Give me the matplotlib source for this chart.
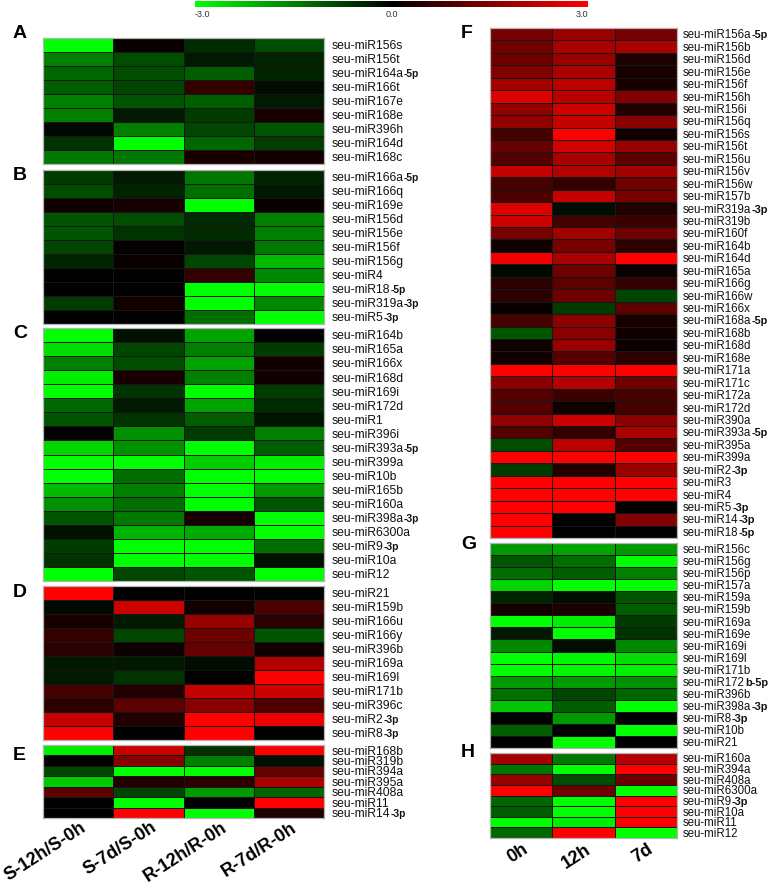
import matplotlib
matplotlib.use('Agg')
import matplotlib.pyplot as plt
import numpy as np
from matplotlib.colors import LinearSegmentedColormap
from matplotlib.transforms import blended_transform_factory, offset_copy

plt.rcParams['font.family'] = ['Liberation Sans', 'DejaVu Sans']

# ---------------- data ----------------
left_columns = ["S-12h/S-0h", "S-7d/S-0h", "R-12h/R-0h", "R-7d/R-0h"]
right_columns = ["0h", "12h", "7d"]
cbar_ticks = ["-3.0", "0.0", "3.0"]

# label format: "regular|bold"
A_labels = ["seu-miR156s", "seu-miR156t", "seu-miR164a|-5p", "seu-miR166t", "seu-miR167e",
            "seu-miR168e", "seu-miR396h", "seu-miR164d", "seu-miR168c"]
A_values = [[-3.0, 0.1, -0.5, -0.9],
            [-1.5, -0.9, -0.3, -0.4],
            [-1.2, -0.9, -1.1, -0.4],
            [-1.1, -0.8, 0.6, -0.15],
            [-1.5, -1.0, -1.1, -0.3],
            [-1.5, -0.3, -0.7, 0.3],
            [-0.1, -1.5, -0.8, -1.0],
            [-0.6, -3.0, -1.2, -0.7],
            [-1.4, -1.4, 0.3, 0.2]]

B_labels = ["seu-miR166a|-5p", "seu-miR166q", "seu-miR169e", "seu-miR156d", "seu-miR156e",
            "seu-miR156f", "seu-miR156g", "seu-miR4", "seu-miR18|-5p", "seu-miR319a|-3p",
            "seu-miR5|-3p"]
B_values = [[-0.7, -0.3, -1.4, -0.4],
            [-0.9, -0.4, -1.3, -0.3],
            [0.2, 0.3, -3.0, 0.1],
            [-1.0, -0.9, -0.5, -1.5],
            [-1.0, -0.6, -0.5, -1.5],
            [-0.8, 0.05, -0.3, -1.4],
            [-0.4, 0.1, -0.8, -2.2],
            [0.0, 0.0, 0.6, -1.6],
            [0.0, 0.0, -3.0, -3.0],
            [-0.7, 0.2, -3.0, -1.6],
            [0.0, 0.0, -1.3, -3.0]]

C_labels = ["seu-miR164b", "seu-miR165a", "seu-miR166x", "seu-miR168d", "seu-miR169i",
            "seu-miR172d", "seu-miR1", "seu-miR396i", "seu-miR393a|-5p", "seu-miR399a",
            "seu-miR10b", "seu-miR165b", "seu-miR160a", "seu-miR398a|-3p", "seu-miR6300a",
            "seu-miR9|-3p", "seu-miR10a", "seu-miR12"]
C_values = [[-3.0, -0.2, -1.9, 0.0],
            [-2.6, -0.8, -1.5, -0.7],
            [-1.5, -0.9, -1.9, 0.2],
            [-2.8, 0.3, -1.5, 0.2],
            [-3.0, -0.6, -3.0, -0.7],
            [-1.2, -0.3, -1.9, -0.5],
            [-1.0, -0.6, -1.1, -0.25],
            [0.0, -1.7, -0.7, -1.5],
            [-2.5, -1.7, -3.0, -1.1],
            [-3.0, -3.0, -2.4, -2.8],
            [-3.0, -1.3, -3.0, -3.0],
            [-2.2, -1.5, -3.0, -1.8],
            [-1.7, -1.3, -3.0, -1.0],
            [-1.0, -1.4, 0.3, -3.0],
            [-0.2, -2.1, -2.0, -3.0],
            [-0.7, -3.0, -3.0, -1.3],
            [-0.6, -3.0, -3.0, -0.2],
            [-3.0, -0.8, -1.0, -3.0]]

D_labels = ["seu-miR21", "seu-miR159b", "seu-miR166u", "seu-miR166y", "seu-miR396b",
            "seu-miR169a", "seu-miR169l", "seu-miR171b", "seu-miR396c", "seu-miR2|-3p",
            "seu-miR8|-3p"]
D_values = [[3.0, 0.0, 0.0, 0.0],
            [-0.1, 2.4, 0.2, 0.9],
            [0.3, -0.3, 1.8, 0.5],
            [0.6, -0.8, 1.3, -1.0],
            [0.5, 0.15, 1.2, 0.2],
            [-0.3, -0.3, -0.15, 2.1],
            [-0.3, -0.6, 0.0, 3.0],
            [0.8, 0.4, 2.3, 2.4],
            [0.5, 1.1, 1.6, 0.9],
            [2.3, 0.4, 3.0, 2.8],
            [3.0, 0.0, 3.0, 0.0]]

E_labels = ["seu-miR168b", "seu-miR319b", "seu-miR394a", "seu-miR395a", "seu-miR408a",
            "seu-miR11", "seu-miR14|-3p"]
E_values = [[-2.8, 2.4, -0.6, 3.0],
            [0.05, 1.6, -1.5, -0.2],
            [-0.8, -3.0, -3.0, 1.2],
            [-2.4, 0.4, 0.5, 2.0],
            [1.1, -0.8, -1.8, -1.2],
            [0.0, -3.0, 0.0, 3.0],
            [0.0, 3.0, -3.0, 0.4]]

F_labels = ["seu-miR156a|-5p", "seu-miR156b", "seu-miR156d", "seu-miR156e", "seu-miR156f",
            "seu-miR156h", "seu-miR156i", "seu-miR156q", "seu-miR156s", "seu-miR156t",
            "seu-miR156u", "seu-miR156v", "seu-miR156w", "seu-miR157b", "seu-miR319a|-3p",
            "seu-miR319b", "seu-miR160f", "seu-miR164b", "seu-miR164d", "seu-miR165a",
            "seu-miR166g", "seu-miR166w", "seu-miR166x", "seu-miR168a|-5p", "seu-miR168b",
            "seu-miR168d", "seu-miR168e", "seu-miR171a", "seu-miR171c", "seu-miR172a",
            "seu-miR172d", "seu-miR390a", "seu-miR393a|-5p", "seu-miR395a", "seu-miR399a",
            "seu-miR2|-3p", "seu-miR3", "seu-miR4", "seu-miR5|-3p", "seu-miR14|-3p",
            "seu-miR18|-5p"]
F_values = [[1.4, 1.8, 1.4],
            [1.3, 2.0, 2.0],
            [1.3, 1.8, 0.35],
            [1.5, 2.0, 0.3],
            [1.9, 2.2, 0.3],
            [2.6, 2.2, 1.5],
            [1.7, 2.4, 0.4],
            [1.7, 2.3, 1.6],
            [0.8, 3.0, 0.2],
            [1.2, 2.5, 1.8],
            [1.0, 2.0, 1.1],
            [2.3, 2.1, 1.9],
            [0.8, 0.6, 1.3],
            [0.9, 2.3, 1.4],
            [2.6, -0.15, 0.4],
            [2.4, 0.8, 0.7],
            [1.4, 1.9, 1.3],
            [0.2, 1.4, 0.5],
            [2.8, 2.0, 3.0],
            [-0.1, 1.3, 0.15],
            [0.5, 1.1, 0.6],
            [0.5, 1.3, -0.8],
            [0.1, -0.7, 1.1],
            [0.8, 1.7, 0.3],
            [-1.0, 1.6, 0.2],
            [0.2, 1.8, 0.15],
            [0.2, 1.0, 0.5],
            [3.0, 3.0, 3.0],
            [1.6, 2.1, 1.3],
            [1.0, 0.7, 0.8],
            [1.0, 0.2, 0.8],
            [1.7, 2.4, 1.6],
            [1.0, 0.6, 2.0],
            [-0.9, 2.2, 1.0],
            [3.0, 3.0, 3.0],
            [-0.7, 0.4, 1.8],
            [3.0, 3.0, 3.0],
            [3.0, 3.0, 3.0],
            [3.0, 3.0, 0.0],
            [3.0, 0.0, 1.5],
            [3.0, 0.0, 0.0]]

G_labels = ["seu-miR156c", "seu-miR156g", "seu-miR156p", "seu-miR157a", "seu-miR159a",
            "seu-miR159b", "seu-miR169a", "seu-miR169e", "seu-miR169i", "seu-miR169l",
            "seu-miR171b", "seu-miR172|b-5p", "seu-miR396b", "seu-miR398a|-3p", "seu-miR8|-3p",
            "seu-miR10b", "seu-miR21"]
G_values = [[-1.8, -1.9, -1.8],
            [-1.0, -1.3, -3.0],
            [-1.3, -1.1, -1.5],
            [-2.5, -3.0, -3.0],
            [-0.4, -0.15, -1.0],
            [0.25, 0.35, -1.1],
            [-3.0, -2.8, -0.7],
            [-0.3, -3.0, -0.6],
            [-1.6, -0.15, -1.6],
            [-3.0, -2.9, -2.6],
            [-3.0, -2.9, -2.8],
            [-1.8, -1.8, -1.7],
            [-1.3, -0.8, -1.2],
            [-2.3, -1.1, -3.0],
            [0.0, -1.8, 0.0],
            [-1.1, 0.0, -3.0],
            [0.0, -3.0, 0.0]]

H_labels = ["seu-miR160a", "seu-miR394a", "seu-miR408a", "seu-miR6300a", "seu-miR9|-3p",
            "seu-miR10a", "seu-miR11", "seu-miR12"]
H_values = [[1.9, -1.4, 2.1],
            [-1.4, -3.0, 3.0],
            [1.8, -0.9, 1.3],
            [3.0, 1.3, -3.0],
            [-1.2, -3.0, 3.0],
            [-1.1, -3.0, 3.0],
            [-3.0, -2.8, 3.0],
            [-1.2, 3.0, -3.0]]

# ---------------- layout ----------------
W, H = 778, 892
fig = plt.figure(figsize=(W / 100, H / 100), dpi=100)
fig.patch.set_facecolor('white')

cmap = LinearSegmentedColormap.from_list('gkr', [(0, 1, 0), (0, 0, 0), (1, 0, 0)])


def ax_px(x0, y0, x1, y1):
    return fig.add_axes([x0 / W, 1 - y1 / H, (x1 - x0) / W, (y1 - y0) / H])


def heat(box, labels, values, fs, bfs, pad_px):
    ax = ax_px(*box)
    v = np.array(values, dtype=float)
    n, m = v.shape
    ax.pcolormesh(v, cmap=cmap, vmin=-3, vmax=3, edgecolors='#161616', linewidth=0.5)
    ax.set_xlim(0, m)
    ax.set_ylim(n, 0)
    ax.set_xticks([])
    ax.set_yticks([])
    for s in ax.spines.values():
        s.set_color('#b4b4b4')
        s.set_linewidth(0.9)
    base = blended_transform_factory(ax.transAxes, ax.transData)
    tr = offset_copy(base, fig=fig, x=pad_px * 0.72, y=-0.36 * fs, units='points')
    for i, lab in enumerate(labels):
        if '|' in lab:
            reg, bold = lab.split('|')
        else:
            reg, bold = lab, ''
        t = ax.text(1.0, i + 0.5, reg, transform=tr, ha='left', va='baseline',
                    fontsize=fs, color='#111111')
        if bold:
            ax.annotate(bold, xy=(1.0, i + 0.5), xycoords=(t, tr), ha='left', va='baseline',
                        fontsize=bfs, fontweight='bold', color='#111111')
    return ax


LX = (43, 324)
RX = (490, 677)
LFS, LBFS = 8.7, 7.4
RFS, RBFS = 8.3, 7.9
heat((LX[0], 38, LX[1], 164), A_labels, A_values, LFS, LBFS, 8)
heat((LX[0], 170, LX[1], 324), B_labels, B_values, LFS, LBFS, 8)
heat((LX[0], 328, LX[1], 581), C_labels, C_values, LFS, LBFS, 8)
heat((LX[0], 586, LX[1], 740), D_labels, D_values, LFS, LBFS, 8)
heat((LX[0], 745, LX[1], 818), E_labels, E_values, LFS, LBFS, 8)
heat((RX[0], 28, RX[1], 538), F_labels, F_values, RFS, RBFS, 6)
heat((RX[0], 543, RX[1], 748), G_labels, G_values, RFS, RBFS, 6)
heat((RX[0], 753, RX[1], 838), H_labels, H_values, RFS, RBFS, 6)

# panel letters
letters = [("A", 13, 28), ("B", 13, 170), ("C", 13, 328), ("D", 13, 587), ("E", 13, 750),
           ("F", 461, 28), ("G", 461, 539), ("H", 461, 747)]
for s, x, y in letters:
    fig.text(x / W, 1 - (y - 3) / H, s, ha='left', va='top', fontsize=14, fontweight='bold')

# column labels
lw_col = (LX[1] - LX[0]) / len(left_columns)
for j, s in enumerate(left_columns):
    cx = LX[0] + (j + 0.5) * lw_col + 2
    fig.text(cx / W, 1 - 819 / H, s, ha='right', va='top', rotation=33,
             rotation_mode='anchor', fontsize=13, fontweight='bold')
rw_col = (RX[1] - RX[0]) / len(right_columns)
for j, s in enumerate(right_columns):
    cx = RX[0] + (j + 0.5) * rw_col + 1
    fig.text(cx / W, 1 - 841 / H, s, ha='right', va='top', rotation=33,
             rotation_mode='anchor', fontsize=13, fontweight='bold')

# colour bar
cax = ax_px(195, 1, 588, 7)
cax.imshow(np.linspace(-3, 3, 256)[None, :], aspect='auto', cmap=cmap, vmin=-3, vmax=3,
           extent=[-3, 3, 0, 1])
cax.set_xticks([])
cax.set_yticks([])
for s in cax.spines.values():
    s.set_visible(False)
fig.text(195 / W, 1 - 10 / H, cbar_ticks[0], ha='left', va='top', fontsize=6.5, color='#333333')
fig.text(391.5 / W, 1 - 10 / H, cbar_ticks[1], ha='center', va='top', fontsize=6.5, color='#333333')
fig.text(588 / W, 1 - 10 / H, cbar_ticks[2], ha='right', va='top', fontsize=6.5, color='#333333')

fig.savefig('out.png', dpi=100, facecolor='white')
